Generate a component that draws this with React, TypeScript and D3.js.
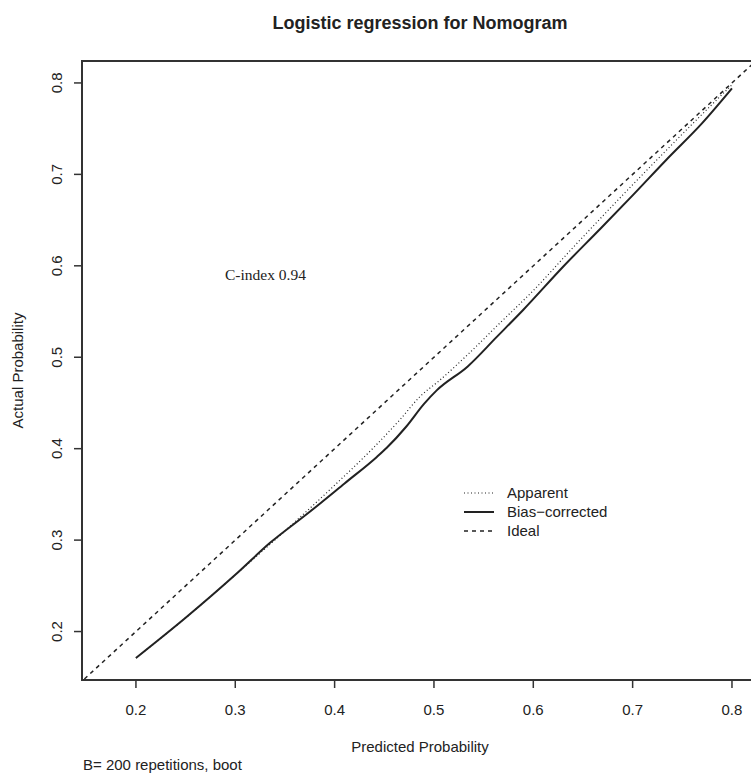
import React from 'react';
import * as d3 from 'd3';

// ticks shared by both axes
const ticks = [0.2, 0.3, 0.4, 0.5, 0.6, 0.7, 0.8];

// apparent calibration curve (dotted)
const apparentX = [0.2, 0.25, 0.3, 0.35, 0.4, 0.44, 0.466, 0.486, 0.506, 0.536, 0.566, 0.6, 0.64, 0.68, 0.72, 0.76, 0.8];
const apparentY = [0.171, 0.215, 0.262, 0.31, 0.36, 0.402, 0.432, 0.457, 0.475, 0.505, 0.537, 0.573, 0.62, 0.666, 0.711, 0.755, 0.798];

// bias-corrected curve (solid)
const biasX = [0.2, 0.25, 0.3, 0.335, 0.375, 0.41, 0.4425, 0.4525, 0.472, 0.49, 0.503, 0.534, 0.563, 0.59, 0.63, 0.667, 0.7, 0.734, 0.77, 0.8];
const biasY = [0.171, 0.215, 0.262, 0.297, 0.331, 0.362, 0.391, 0.401, 0.424, 0.449, 0.464, 0.49, 0.522, 0.552, 0.599, 0.64, 0.677, 0.716, 0.756, 0.794];

// ideal diagonal
const idealX = [0, 1];

const legendItems = [
  { label: 'Apparent', dash: '1,2.5', width: 1.2 },
  { label: 'Bias\u2212corrected', dash: null, width: 2 },
  { label: 'Ideal', dash: '4,4', width: 1.5 },
];

const W = 751;
const H = 775;
const plot = { left: 82, top: 61, right: 758, bottom: 680 };
const sans = '"Liberation Sans", Arial, Helvetica, sans-serif';
const ink = '#222';

export default function App() {
  const x = d3.scaleLinear().domain([0.1457, 0.8262]).range([plot.left, plot.right]);
  const y = d3.scaleLinear().domain([0.147, 0.824]).range([plot.bottom, plot.top]);

  const line = d3.line<[number, number]>()
    .x(d => x(d[0]))
    .y(d => y(d[1]))
    .curve(d3.curveMonotoneX);

  const apparent = apparentX.map((v, i) => [v, apparentY[i]] as [number, number]);
  const bias = biasX.map((v, i) => [v, biasY[i]] as [number, number]);
  const ideal = idealX.map(v => [v, v] as [number, number]);

  const midX = (plot.left + plot.right) / 2;
  const midY = (plot.top + plot.bottom) / 2;

  return (
    <svg width={W} height={H} style={{ position: 'absolute', left: 0, top: 0, background: '#fff' }}
      fontFamily={sans}>
      <defs>
        <clipPath id="plotClip">
          <rect x={plot.left} y={plot.top} width={plot.right - plot.left} height={plot.bottom - plot.top} />
        </clipPath>
      </defs>
      <rect x={0} y={0} width={W} height={H} fill="#fff" />

      <text x={midX} y={29} textAnchor="middle" fontSize={18} fontWeight="bold" fill={ink}>
        Logistic regression for Nomogram
      </text>

      <g clipPath="url(#plotClip)" fill="none" stroke={ink}>
        <path d={line(ideal) || ''} strokeWidth={1.5} strokeDasharray="4,4" />
        <path d={line(apparent) || ''} strokeWidth={1.2} strokeDasharray="1,2.5" />
        <path d={line(bias) || ''} strokeWidth={2} />
      </g>

      <rect x={plot.left} y={plot.top} width={plot.right - plot.left} height={plot.bottom - plot.top}
        fill="none" stroke="#333" strokeWidth={2} />

      {/* x axis */}
      {ticks.map(t => (
        <g key={'x' + t}>
          <line x1={x(t)} x2={x(t)} y1={plot.bottom} y2={plot.bottom + 8} stroke="#333" strokeWidth={1.5} />
          <text x={x(t)} y={715} textAnchor="middle" fontSize={15} fill={ink}>{t.toFixed(1)}</text>
        </g>
      ))}

      {/* y axis */}
      {ticks.map(t => (
        <g key={'y' + t}>
          <line x1={plot.left - 8} x2={plot.left} y1={y(t)} y2={y(t)} stroke="#333" strokeWidth={1.5} />
          <text transform={`translate(62,${y(t)}) rotate(-90)`} textAnchor="middle" fontSize={15} fill={ink}>
            {t.toFixed(1)}
          </text>
        </g>
      ))}

      <text x={midX} y={752} textAnchor="middle" fontSize={15} fill={ink}>Predicted Probability</text>
      <text transform={`translate(23,${midY}) rotate(-90)`} textAnchor="middle" fontSize={15} fill={ink}>
        Actual Probability
      </text>
      <text x={83} y={770} fontSize={15} fill={ink}>B= 200 repetitions, boot</text>

      <text x={225} y={280} fontSize={15.5} fontFamily='"Liberation Serif", "Times New Roman", serif' fill={ink}>
        C-index 0.94
      </text>

      {/* legend */}
      {legendItems.map((d, i) => {
        const cy = 493 + i * 19;
        return (
          <g key={d.label}>
            <line x1={464} x2={494} y1={cy} y2={cy} stroke={ink} strokeWidth={d.width}
              strokeDasharray={d.dash || undefined} />
            <text x={507} y={cy} dy="0.35em" fontSize={15} fill={ink}>{d.label}</text>
          </g>
        );
      })}
    </svg>
  );
}
